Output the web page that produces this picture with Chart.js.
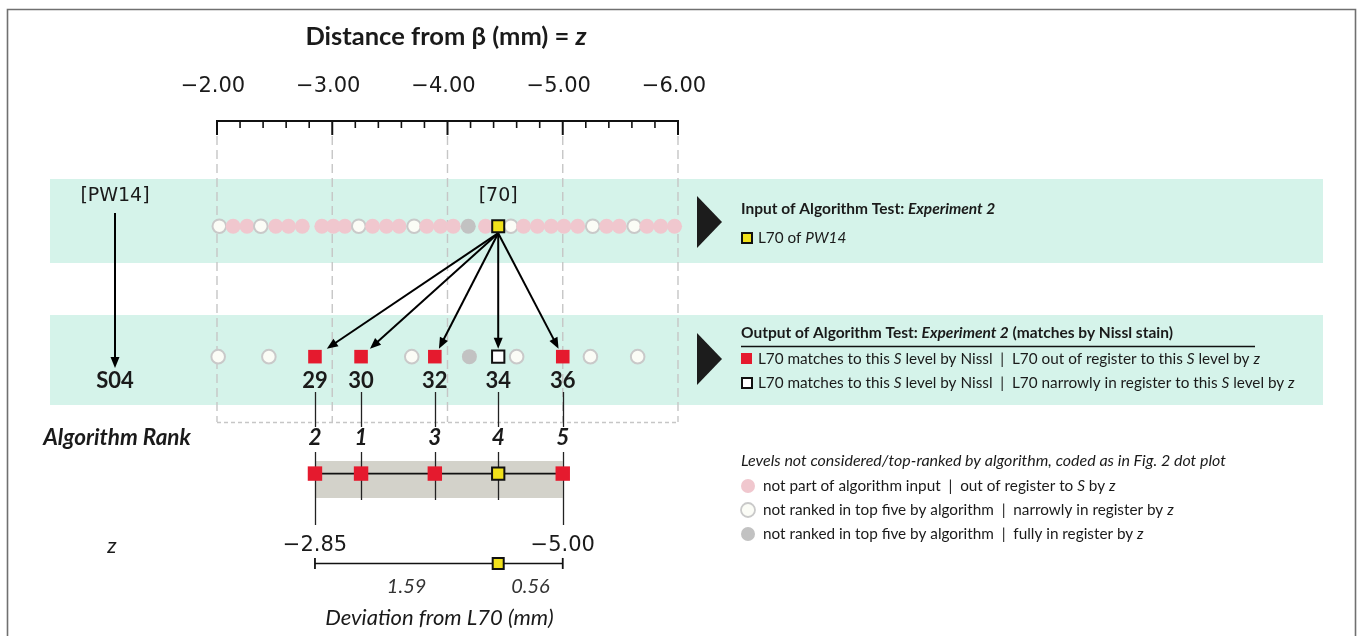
<!DOCTYPE html>
<html lang="en">
<head>
<meta charset="UTF-8">
<title>Algorithm Test: Experiment 2</title>
<script src="https://cdn.jsdelivr.net/npm/chart.js"></script>
<style>
  html, body { margin: 0; padding: 0; background: #fff; }
  #wrap { width: 1358px; height: 636px; }
</style>
</head>
<body>
<div id="wrap"><canvas id="myChart" width="1358" height="636"></canvas></div>
<script>
// PW14 levels (distance from bregma, mm), left to right
const pw14Z = [-2.02, -2.14, -2.26, -2.38, -2.51, -2.62, -2.74, -2.91, -3.01, -3.11,
               -3.23, -3.35, -3.47, -3.58, -3.71, -3.82, -3.94, -4.05, -4.18, -4.33,
               -4.44, -4.55, -4.66, -4.78, -4.90, -5.01, -5.13, -5.26, -5.38, -5.49,
               -5.62, -5.73, -5.85, -5.97];
// out = not part of input, narrow = narrowly in register, full = fully in register
const pw14Code = ['narrow', 'out', 'out', 'narrow', 'out', 'out', 'out', 'out', 'out', 'out',
                  'narrow', 'out', 'out', 'out', 'narrow', 'out', 'out', 'out', 'full', 'out',
                  'L70', 'narrow', 'out', 'out', 'out', 'out', 'out', 'narrow', 'out', 'out',
                  'narrow', 'out', 'out', 'out'];
const l70Label = '[70]';

// S04 levels
const s04Z = [-2.01, -2.45, -2.85, -3.25, -3.69, -3.89, -4.19, -4.44, -4.60, -5.00, -5.24, -5.65];
const s04Code = ['narrow', 'narrow', 'match', 'match', 'narrow', 'match', 'full', 'matchNarrow',
                 'narrow', 'match', 'narrow', 'narrow'];
const s04Level = [null, null, 29, 30, null, 32, null, 34, null, 36, null, null];
const s04Rank = [null, null, 2, 1, null, 3, null, 4, null, 5, null, null];

// axis
const axisTicks = [-2, -3, -4, -5, -6];
const minorStep = 0.2;

// colours
const PINK = '#f0c7ce';
const OPEN_FILL = '#fbfcf6';
const OPEN_EDGE = '#c9c9c9';
const GREY = '#c2c2c2';
const RED = '#e51a2e';
const YELLOW = '#f1e11b';
const GREEN = '#d5f3ea';
const BAND = '#d3d2ca';

// row heights (pixels on the y scale)
const ROW_INPUT = 223;
const ROW_S04 = 358;
const ROW_RANK = 479;
const ROW_DEV = 572;

const F = 'Lato, "Open Sans", sans-serif';
const FD = '"DejaVu Sans", Verdana, sans-serif';
const minus = v => (v < 0 ? '\u2212' : '') + Math.abs(v).toFixed(2);

function fillOf(code) {
    if (code === 'out') return PINK;
    if (code === 'narrow') return OPEN_FILL;
    if (code === 'full') return GREY;
    if (code === 'match') return RED;
    return '#ffffff';
}
function edgeOf(code) {
    if (code === 'narrow') return OPEN_EDGE;
    if (code === 'matchNarrow') return '#111';
    return fillOf(code);
}

const pw14Dots = pw14Z.map((z, i) => ({x: z, y: ROW_INPUT, code: pw14Code[i]})).filter(p => p.code !== 'L70');
const l70Z = pw14Z[pw14Code.indexOf('L70')];
const s04Dots = s04Z.map((z, i) => ({x: z, y: ROW_S04, code: s04Code[i]}));
const ranked = s04Z.map((z, i) => ({x: z, y: ROW_RANK, code: s04Code[i], rank: s04Rank[i]})).filter(p => p.rank !== null);
const devEnds = [ranked[0].x, ranked[ranked.length - 1].x];

function rich(ctx, parts, x, y, align) {
    let w = 0;
    parts.forEach(p => { ctx.font = p[1]; w += ctx.measureText(p[0]).width; });
    let cx = align === 'center' ? x - w / 2 : (align === 'right' ? x - w : x);
    ctx.textAlign = 'left';
    parts.forEach(p => { ctx.font = p[1]; ctx.fillText(p[0], cx, y); cx += ctx.measureText(p[0]).width; });
    return w;
}

function arrow(ctx, x1, y1, x2, y2) {
    const a = Math.atan2(y2 - y1, x2 - x1);
    const h = 11, w = 4.5;
    ctx.beginPath();
    ctx.moveTo(x1, y1);
    ctx.lineTo(x2 - Math.cos(a) * h * 0.8, y2 - Math.sin(a) * h * 0.8);
    ctx.stroke();
    ctx.beginPath();
    ctx.moveTo(x2, y2);
    ctx.lineTo(x2 - h * Math.cos(a) + w * Math.sin(a), y2 - h * Math.sin(a) - w * Math.cos(a));
    ctx.lineTo(x2 - h * Math.cos(a) - w * Math.sin(a), y2 - h * Math.sin(a) + w * Math.cos(a));
    ctx.closePath();
    ctx.fill();
}

// bands, ruler, guide lines, arrows: under the marks
const backPlugin = {
    id: 'back',
    beforeDatasetsDraw(chart) {
        const ctx = chart.ctx;
        const X = v => chart.scales.x.getPixelForValue(v);
        const Y = v => chart.scales.y.getPixelForValue(v);
        ctx.save();

        // frame
        ctx.strokeStyle = '#707070';
        ctx.lineWidth = 1.6;
        ctx.beginPath();
        ctx.moveTo(7.5, 640); ctx.lineTo(7.5, 9.5); ctx.lineTo(1355.5, 9.5); ctx.lineTo(1355.5, 640);
        ctx.stroke();

        // green rows
        ctx.fillStyle = GREEN;
        ctx.fillRect(50, 179, 1273, 84);
        ctx.fillRect(50, 315, 1273, 90);

        // dashed guides
        ctx.strokeStyle = '#c6c6c6';
        ctx.lineWidth = 1.4;
        ctx.setLineDash([9, 5]);
        axisTicks.forEach(t => {
            ctx.beginPath(); ctx.moveTo(X(t), 136); ctx.lineTo(X(t), 422); ctx.stroke();
        });
        ctx.setLineDash([4, 3]);
        ctx.beginPath(); ctx.moveTo(X(axisTicks[0]), 422.5); ctx.lineTo(X(axisTicks[axisTicks.length - 1]), 422.5); ctx.stroke();
        ctx.setLineDash([]);

        // ruler
        ctx.strokeStyle = '#111';
        ctx.lineWidth = 2;
        const lo = axisTicks[0], hi = axisTicks[axisTicks.length - 1];
        ctx.beginPath(); ctx.moveTo(X(lo) - 1, 121); ctx.lineTo(X(hi) + 1, 121); ctx.stroke();
        for (let v = lo; v >= hi - 1e-6; v -= minorStep) {
            const major = Math.abs(v - Math.round(v)) < 1e-6;
            ctx.lineWidth = major ? 2 : 1.6;
            ctx.beginPath(); ctx.moveTo(X(v), 121); ctx.lineTo(X(v), major ? 135 : 128); ctx.stroke();
        }

        // grey band behind ranked levels
        ctx.fillStyle = BAND;
        ctx.fillRect(X(devEnds[0]), 461, X(devEnds[1]) - X(devEnds[0]), 37);

        // connectors from S04 labels through ranks
        ctx.strokeStyle = '#222';
        ctx.lineWidth = 1.3;
        ranked.forEach(p => {
            const x = Math.round(X(p.x)) + 0.5;
            const isEnd = p.x === devEnds[0] || p.x === devEnds[1];
            ctx.beginPath(); ctx.moveTo(x, 392); ctx.lineTo(x, 427); ctx.stroke();
            ctx.beginPath(); ctx.moveTo(x, 452); ctx.lineTo(x, isEnd ? 525 : 500); ctx.stroke();
        });

        // arrows from L70 to matched S04 levels
        ctx.strokeStyle = '#000';
        ctx.fillStyle = '#000';
        ctx.lineWidth = 2;
        const sx = X(l70Z), sy = Y(ROW_INPUT) + 7;
        ranked.forEach(p => {
            const tx = X(p.x), ty = Y(ROW_S04);
            const endY = ty - 8;
            const ex = sx + (tx - sx) * (endY - sy) / (ty - sy);
            arrow(ctx, sx, sy, ex, endY);
        });
        // PW14 -> S04
        arrow(ctx, 115, 213, 115, 368);

        ctx.restore();
    }
};

// texts and legend
const frontPlugin = {
    id: 'front',
    afterDatasetsDraw(chart) {
        const ctx = chart.ctx;
        const X = v => chart.scales.x.getPixelForValue(v);
        ctx.save();
        ctx.fillStyle = '#1a1a1a';
        ctx.textBaseline = 'middle';

        // title
        rich(ctx, [['Distance from \u03b2 (mm) = ', 'bold 25.5px ' + F], ['z', 'italic bold 25.5px ' + F]], 446, 37, 'center');

        // tick labels
        ctx.font = '21px ' + FD;
        ctx.textAlign = 'center';
        axisTicks.forEach(t => ctx.fillText(minus(t), X(t) - 4, 87));

        // row labels
        ctx.font = '19px ' + FD;
        ctx.fillText('[PW14]', 115, 196);
        ctx.fillText(l70Label, X(l70Z), 196);
        ctx.font = 'bold 22px ' + F;
        ctx.fillText('S04', 115, 381);
        s04Level.forEach((lv, i) => { if (lv !== null) ctx.fillText(String(lv), X(s04Z[i]), 381); });

        ctx.font = 'italic bold 22.5px ' + F;
        ctx.fillText('Algorithm Rank', 117, 438);
        ranked.forEach(p => ctx.fillText(String(p.rank), X(p.x), 438));

        ctx.font = 'italic 22px ' + F;
        ctx.fillText('z', 112, 546);
        ctx.font = '21px ' + FD;
        devEnds.forEach(z => ctx.fillText(minus(z), X(z), 546));

        // deviation labels
        ctx.font = 'italic 20px ' + F;
        ctx.fillStyle = '#333';
        ctx.fillText(Math.abs(l70Z - devEnds[0]).toFixed(2), X((devEnds[0] + l70Z) / 2), 587);
        ctx.fillText(Math.abs(devEnds[1] - l70Z).toFixed(2), X((devEnds[1] + l70Z) / 2), 587);
        ctx.font = 'italic 22px ' + F;
        ctx.fillStyle = '#1a1a1a';
        ctx.fillText('Deviation from L70 (mm)', X(-3.93), 618);

        // triangles
        ctx.fillStyle = '#1c1c1c';
        [[196, 248], [333, 385]].forEach(r => {
            ctx.beginPath();
            ctx.moveTo(697, r[0]); ctx.lineTo(722, (r[0] + r[1]) / 2); ctx.lineTo(697, r[1]);
            ctx.closePath(); ctx.fill();
        });

        // legend: input
        ctx.fillStyle = '#1a1a1a';
        const HB = 'bold 15.5px ' + F, HBI = 'italic bold 15.5px ' + F;
        const R = '15.3px ' + F, RI = 'italic 15.3px ' + F;
        rich(ctx, [['Input of Algorithm Test: ', HB], ['Experiment 2', HBI]], 741, 209, 'left');
        ctx.fillStyle = YELLOW; ctx.fillRect(742, 233, 10, 10);
        ctx.strokeStyle = '#111'; ctx.lineWidth = 2; ctx.strokeRect(742, 233, 10, 10);
        ctx.fillStyle = '#1a1a1a';
        rich(ctx, [['L70 of ', R], ['PW14', RI]], 758, 238, 'left');

        // legend: output
        rich(ctx, [['Output of Algorithm Test: ', HB], ['Experiment 2', HBI], [' (matches by Nissl stain)', HB]], 741, 333, 'left');
        ctx.lineWidth = 1.3;
        ctx.beginPath(); ctx.moveTo(741, 346.5); ctx.lineTo(1255, 346.5); ctx.stroke();
        ctx.fillStyle = RED; ctx.fillRect(741, 353, 11, 11);
        ctx.fillStyle = '#fff'; ctx.fillRect(742, 378, 10, 10);
        ctx.lineWidth = 2; ctx.strokeRect(742, 378, 10, 10);
        ctx.fillStyle = '#1a1a1a';
        rich(ctx, [['L70 matches to this ', R], ['S', RI], [' level by Nissl  |  L70 out of register to this ', R],
                   ['S', RI], [' level by ', R], ['z', RI]], 758, 359, 'left');
        rich(ctx, [['L70 matches to this ', R], ['S', RI], [' level by Nissl  |  L70 narrowly in register to this ', R],
                   ['S', RI], [' level by ', R], ['z', RI]], 758, 383, 'left');

        // legend: not considered
        rich(ctx, [['Levels not considered/top-ranked by algorithm, coded as in Fig. 2 dot plot', 'italic 16px ' + F]], 741, 461, 'left');
        const dots = [['out', 486, [['not part of algorithm input  |  out of register to ', R], ['S', RI], [' by ', R], ['z', RI]]],
                      ['narrow', 510, [['not ranked in top five by algorithm  |  narrowly in register by ', R], ['z', RI]]],
                      ['full', 534, [['not ranked in top five by algorithm  |  fully in register by ', R], ['z', RI]]]];
        dots.forEach(d => {
            ctx.beginPath(); ctx.arc(748, d[1], 7, 0, Math.PI * 2);
            ctx.fillStyle = fillOf(d[0]); ctx.fill();
            if (d[0] === 'narrow') { ctx.strokeStyle = OPEN_EDGE; ctx.lineWidth = 1.8; ctx.stroke(); }
            ctx.fillStyle = '#1a1a1a';
            rich(ctx, d[2], 763, d[1], 'left');
        });

        ctx.restore();
    }
};

const ctx = document.querySelector('#myChart');
const myChart = new Chart(ctx, {
    type: 'scatter',
    data: {
        datasets: [
            {
                label: 'PW14 levels',
                data: pw14Dots,
                order: 6,
                clip: false,
                pointStyle: 'circle',
                pointRadius: c => c.raw.code === 'narrow' ? 6.8 : 7.5,
                backgroundColor: c => fillOf(c.raw.code),
                borderColor: c => edgeOf(c.raw.code),
                borderWidth: c => c.raw.code === 'narrow' ? 2 : 0
            },
            {
                label: 'L70 of PW14',
                data: [{x: l70Z, y: ROW_INPUT}],
                order: 1,
                clip: false,
                pointStyle: 'rect',
                pointRadius: 8.5,
                backgroundColor: YELLOW,
                borderColor: '#111',
                borderWidth: 2
            },
            {
                label: 'S04 levels',
                data: s04Dots,
                order: 5,
                clip: false,
                pointStyle: c => (c.raw.code === 'match' || c.raw.code === 'matchNarrow') ? 'rect' : 'circle',
                pointRadius: c => c.raw.code === 'match' ? 9.6 : (c.raw.code === 'matchNarrow' ? 8.7 : (c.raw.code === 'narrow' ? 6.8 : 7.5)),
                backgroundColor: c => fillOf(c.raw.code),
                borderColor: c => edgeOf(c.raw.code),
                borderWidth: c => (c.raw.code === 'narrow' || c.raw.code === 'matchNarrow') ? 2 : 0
            },
            {
                type: 'line',
                label: 'Algorithm rank',
                data: ranked,
                order: 4,
                clip: false,
                showLine: true,
                borderColor: '#111',
                borderWidth: 1.6,
                pointStyle: 'rect',
                pointRadius: c => c.raw && c.raw.code === 'match' ? 10.2 : 8.7,
                pointBackgroundColor: c => c.raw && c.raw.code === 'match' ? RED : YELLOW,
                pointBorderColor: c => c.raw && c.raw.code === 'match' ? RED : '#111',
                pointBorderWidth: c => c.raw && c.raw.code === 'match' ? 0 : 2
            },
            {
                type: 'line',
                label: 'Deviation',
                data: devEnds.map(z => ({x: z, y: ROW_DEV})),
                order: 3,
                clip: false,
                showLine: true,
                borderColor: '#111',
                borderWidth: 1.6,
                pointStyle: 'line',
                rotation: 90,
                pointRadius: 5.5,
                pointBorderColor: '#111',
                pointBorderWidth: 1.8
            },
            {
                label: 'L70 deviation',
                data: [{x: l70Z, y: ROW_DEV}],
                order: 1,
                clip: false,
                pointStyle: 'rect',
                pointRadius: 7.8,
                backgroundColor: YELLOW,
                borderColor: '#111',
                borderWidth: 2
            }
        ]
    },
    options: {
        responsive: false,
        animation: false,
        devicePixelRatio: 1,
        layout: { padding: { left: 217, right: 680, top: 0, bottom: 0 } },
        plugins: { legend: { display: false }, tooltip: { enabled: false } },
        scales: {
            x: { type: 'linear', min: -6, max: -2, reverse: true, display: false },
            y: { type: 'linear', min: 0, max: 636, reverse: true, display: false }
        }
    },
    plugins: [backPlugin, frontPlugin]
});
</script>
</body>
</html>
